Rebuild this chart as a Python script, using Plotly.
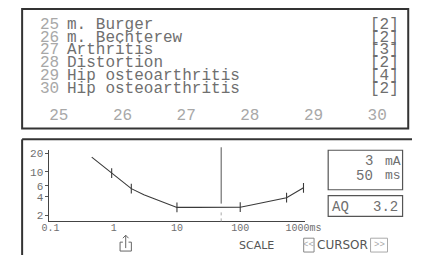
import plotly.graph_objects as go

# ---------------- data ----------------
ids = [25, 26, 27, 28, 29, 30]
names = ["m. Burger", "m. Bechterew", "Arthritis", "Distortion",
         "Hip osteoarthritis", "Hip osteoarthritis"]
counts = [2, 2, 3, 2, 4, 2]

duration_ms = [0.45, 0.93, 1.9, 3, 5, 7, 10, 20, 50, 100, 150, 200, 300, 540, 1000]
current_ma = [17.3, 9.6, 5.4, 4.3, 3.5, 3.05, 2.7, 2.7, 2.7, 2.72, 2.95, 3.15, 3.4, 3.86, 5.57]

measured_ms = [0.93, 1.9, 10, 100, 540, 1000]
measured_ma = [9.6, 5.4, 2.7, 2.72, 3.86, 5.57]

x_ticks = [0.1, 1, 10, 100, 1000]
x_ticktext = ["0.1", "1", "10", "100", "1000ms"]
y_ticks = [2, 4, 6, 10, 20]
y_ticktext = ["2", "4", "6", "10", "20"]

cursor_ms = 50
cursor_ma = 3
aq_value = 3.2

# ---------------- helpers ----------------
W, H = 429, 256
def fx(p):
    return p / W
def fy(p):
    return 1 - p / H

MONO = "Liberation Mono"
TXT = "#6f6f6f"
LIGHT = "#a8a8a8"
DARK = "#333333"

fig = go.Figure()

fig.add_trace(go.Scatter(x=duration_ms, y=current_ma, mode="lines",
                         line=dict(color="#3a3a3a", width=1.1),
                         xaxis="x", yaxis="y", hoverinfo="skip"))
fig.add_trace(go.Scatter(x=measured_ms, y=measured_ma, mode="markers",
                         marker=dict(symbol="line-ns", size=7,
                                     line=dict(color="#3a3a3a", width=1.1)),
                         xaxis="x", yaxis="y", hoverinfo="skip"))
# top panel category axis
fig.add_trace(go.Scatter(x=ids, y=counts, mode="none", xaxis="x2", yaxis="y2",
                         hoverinfo="skip"))

annotations = []
for i, (n, name, c) in enumerate(zip(ids, names, counts)):
    yy = fy(23 + 13 * i)
    annotations.append(dict(x=fx(32), y=yy, xref="paper", yref="paper",
                            text=str(n), showarrow=False, xanchor="left",
                            yanchor="middle", font=dict(family=MONO, size=16, color=LIGHT)))
    annotations.append(dict(x=fx(61), y=yy, xref="paper", yref="paper",
                            text=name, showarrow=False, xanchor="left",
                            yanchor="middle", font=dict(family=MONO, size=16, color=TXT)))
    annotations.append(dict(x=fx(382), y=yy, xref="paper", yref="paper",
                            text=f"[{c}]", showarrow=False, xanchor="left",
                            yanchor="middle", font=dict(family=MONO, size=16, color=TXT)))

# right info boxes
annotations += [
    dict(x=fx(390), y=fy(161), xref="paper", yref="paper", text=str(cursor_ma),
         showarrow=False, xanchor="right", yanchor="middle",
         font=dict(family=MONO, size=14, color=TXT)),
    dict(x=fx(398), y=fy(161), xref="paper", yref="paper", text="mA",
         showarrow=False, xanchor="left", yanchor="middle",
         font=dict(family=MONO, size=13, color=TXT)),
    dict(x=fx(390), y=fy(176), xref="paper", yref="paper", text=str(cursor_ms),
         showarrow=False, xanchor="right", yanchor="middle",
         font=dict(family=MONO, size=14, color=TXT)),
    dict(x=fx(398), y=fy(176), xref="paper", yref="paper", text="ms",
         showarrow=False, xanchor="left", yanchor="middle",
         font=dict(family=MONO, size=13, color=TXT)),
    dict(x=fx(342), y=fy(207), xref="paper", yref="paper", text="AQ",
         showarrow=False, xanchor="left", yanchor="middle",
         font=dict(family=MONO, size=14, color=TXT)),
    dict(x=fx(416), y=fy(207), xref="paper", yref="paper", text=f"{aq_value}",
         showarrow=False, xanchor="right", yanchor="middle",
         font=dict(family=MONO, size=14, color=TXT)),
    dict(x=fx(264), y=fy(246), xref="paper", yref="paper", text="SCALE",
         showarrow=False, xanchor="center", yanchor="middle",
         font=dict(family="DejaVu Sans", size=11, color="#555")),
    dict(x=fx(355.5), y=fy(246), xref="paper", yref="paper", text="CURSOR",
         showarrow=False, xanchor="center", yanchor="middle",
         font=dict(family="DejaVu Sans", size=12, color="#555")),
    dict(x=fx(319.5), y=fy(246), xref="paper", yref="paper", text="&lt;&lt;",
         showarrow=False, xanchor="center", yanchor="middle",
         font=dict(family=MONO, size=9, color=LIGHT)),
    dict(x=fx(394), y=fy(246), xref="paper", yref="paper", text="&gt;&gt;",
         showarrow=False, xanchor="center", yanchor="middle",
         font=dict(family=MONO, size=9, color=LIGHT)),
]

def rect(x0, y0, x1, y1, color=DARK, width=1.5):
    return dict(type="rect", xref="paper", yref="paper",
                x0=fx(x0), x1=fx(x1), y0=fy(y1), y1=fy(y0),
                line=dict(color=color, width=width))

def seg(x0, y0, x1, y1, color=DARK, width=1.5, dash="solid"):
    return dict(type="line", xref="paper", yref="paper",
                x0=fx(x0), x1=fx(x1), y0=fy(y0), y1=fy(y1),
                line=dict(color=color, width=width, dash=dash))

shapes = [
    rect(15, 7, 425, 128, width=2),
    seg(15, 139, 429, 139, width=2),
    seg(15, 139, 15, 256, width=2),
    rect(340, 150, 419, 190, color="#555", width=1.2),
    rect(340, 196, 419, 217, color="#555", width=1.2),
    rect(314, 239, 325, 253, color="#888", width=1),
    rect(385, 239, 403, 253, color="#aaa", width=1),
    # upload icon
    dict(type="path", xref="paper", yref="paper",
         path=f"M {fx(122)},{fy(243)} L {fx(119)},{fy(243)} L {fx(119)},{fy(252)} "
              f"L {fx(131)},{fy(252)} L {fx(131)},{fy(243)} L {fx(128)},{fy(243)}",
         line=dict(color="#666", width=1)),
    seg(125, 249, 125, 236, color="#666", width=1),
    dict(type="path", xref="paper", yref="paper",
         path=f"M {fx(122)},{fy(239)} L {fx(125)},{fy(236)} L {fx(128)},{fy(239)}",
         line=dict(color="#666", width=1)),
    # cursor line
    dict(type="line", xref="x", yref="paper", x0=cursor_ms, x1=cursor_ms,
         y0=fy(204), y1=fy(147), line=dict(color="#555", width=1)),
    dict(type="line", xref="x", yref="paper", x0=cursor_ms, x1=cursor_ms,
         y0=fy(222), y1=fy(211), line=dict(color="#aaa", width=1, dash="dot")),
]

fig.update_layout(
    width=W, height=H,
    margin=dict(l=0, r=0, t=0, b=0),
    paper_bgcolor="white", plot_bgcolor="white",
    showlegend=False,
    xaxis=dict(type="log", domain=[fx(44), fx(315)], range=[-1.015, 3.018],
               tickvals=x_ticks, ticktext=x_ticktext, ticks="",
               ticklabelstandoff=-3,
               showline=True, linecolor="#444", linewidth=1, showgrid=False,
               zeroline=False, anchor="y",
               tickfont=dict(family=MONO, size=10, color=TXT)),
    yaxis=dict(type="log", domain=[fy(222), fy(150)], range=[0.207, 1.348],
               tickvals=y_ticks, ticktext=y_ticktext, ticks="outside",
               ticklen=3, tickcolor="#555",
               showline=True, linecolor="#444", linewidth=1, showgrid=False,
               zeroline=False, anchor="x",
               tickfont=dict(family=MONO, size=11, color=TXT)),
    xaxis2=dict(domain=[fx(15), fx(425)], range=[24.423, 30.488],
                tickvals=ids, ticktext=[str(v) for v in ids], ticks="",
                showline=False, showgrid=False, zeroline=False, anchor="y2",
                tickfont=dict(family=MONO, size=16, color=LIGHT)),
    yaxis2=dict(domain=[fy(102), fy(94)], range=[10, 11], visible=False,
                anchor="x2"),
    annotations=annotations,
    shapes=shapes,
)

fig.write_html("out.html", config={"displayModeBar": False},
               post_script="document.body.style.margin='0';")
